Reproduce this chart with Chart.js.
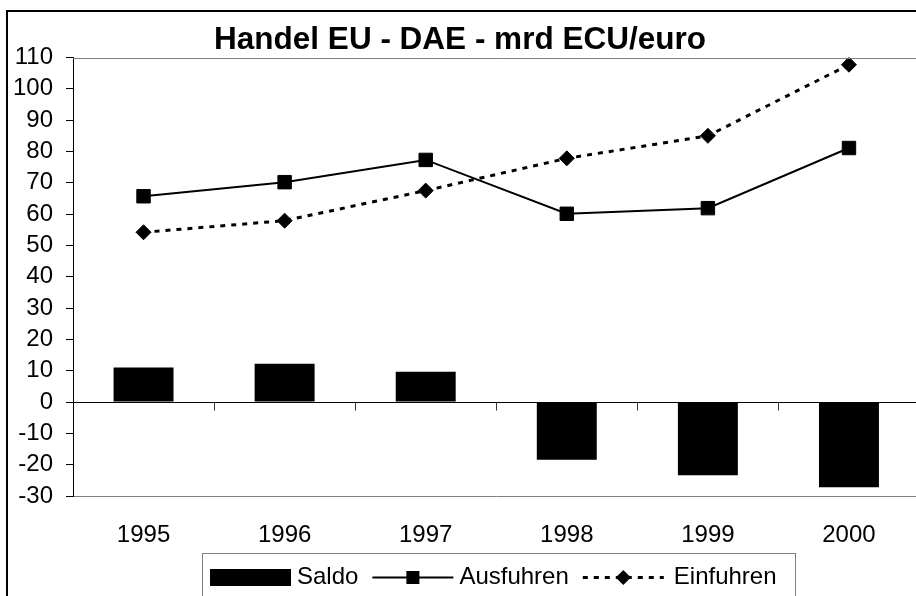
<!DOCTYPE html>
<html>
<head>
<meta charset="utf-8">
<script src="https://cdn.jsdelivr.net/npm/chart.js@4"></script>
<style>
body{margin:0;background:#fff;overflow:hidden;}
#wrap{width:930px;height:596px;}
</style>
</head>
<body>
<div id="wrap"><canvas id="tradeChart" width="930" height="596"></canvas></div>
<script>
let years=["1995","1996","1997","1998","1999","2000"];
let saldo=[11,12.2,9.7,-18.4,-23.4,-27.2];
let ausfuhren=[65.7,70.2,77.3,60.1,61.9,81.1];
let einfuhren=[54.2,57.9,67.5,77.8,85,107.7];
let yMin=-30;
let yMax=110;
let yStep=10;

Chart.defaults.font.family="'Liberation Sans', Arial, sans-serif";
Chart.defaults.color="#000";

// frame, plot top border, category ticks on zero line, legend box
let decorations={
    id:"decorations",
    beforeDraw(chart){
        let ctx=chart.ctx;
        ctx.save();
        ctx.fillStyle="#fff";
        ctx.fillRect(0,0,chart.width,chart.height);
        ctx.fillStyle="#000";
        ctx.fillRect(6,10,2,chart.height);
        ctx.fillRect(6,10,chart.width,2);
        ctx.restore();
    },
    afterDatasetsDraw(chart){
        let ctx=chart.ctx;
        let area=chart.chartArea;
        let x=chart.scales.x;
        let y=chart.scales.y;
        ctx.save();
        ctx.strokeStyle="#808080";
        ctx.lineWidth=1;
        ctx.beginPath();
        ctx.moveTo(area.left,Math.round(area.top)+0.5);
        ctx.lineTo(area.right,Math.round(area.top)+0.5);
        ctx.stroke();
        let zero=Math.round(y.getPixelForValue(0))+0.5;
        let half=(x.getPixelForValue(1)-x.getPixelForValue(0))/2;
        ctx.strokeStyle="#333";
        ctx.beginPath();
        for(let i=0;i<years.length;i++){
            let px=Math.round(x.getPixelForValue(i)+half)+0.5;
            ctx.moveTo(px,zero);
            ctx.lineTo(px,zero+8);
        }
        ctx.stroke();
        ctx.restore();
    },
    afterDraw(chart){
        let ctx=chart.ctx;
        let ds=chart.data.datasets;
        ctx.save();
        ctx.strokeStyle="#808080";
        ctx.lineWidth=1;
        ctx.strokeRect(202.5,553.5,593,80);
        ctx.font="24px 'Liberation Sans', Arial, sans-serif";
        ctx.textBaseline="alphabetic";
        ctx.fillStyle="#000";
        let cx=210;
        let cy=577.5;
        // Saldo
        ctx.fillRect(cx,569,81,17);
        cx+=87;
        ctx.fillText(ds[0].label,cx,584);
        cx+=ctx.measureText(ds[0].label).width+14;
        // Ausfuhren
        ctx.strokeStyle="#000";
        ctx.lineWidth=2;
        ctx.beginPath();
        ctx.moveTo(cx,cy);
        ctx.lineTo(cx+81,cy);
        ctx.stroke();
        ctx.fillRect(cx+40.5-6.5,cy-6.5,13,13);
        cx+=87;
        ctx.fillText(ds[1].label,cx,584);
        cx+=ctx.measureText(ds[1].label).width+14;
        // Einfuhren
        ctx.lineWidth=3;
        ctx.setLineDash([5,6]);
        ctx.beginPath();
        ctx.moveTo(cx,cy);
        ctx.lineTo(cx+81,cy);
        ctx.stroke();
        ctx.setLineDash([]);
        let mx=cx+40.5;
        ctx.beginPath();
        ctx.moveTo(mx-7.5,cy);
        ctx.lineTo(mx,cy-7.5);
        ctx.lineTo(mx+7.5,cy);
        ctx.lineTo(mx,cy+7.5);
        ctx.closePath();
        ctx.fill();
        cx+=91;
        ctx.fillText(ds[2].label,cx,584);
        ctx.restore();
    }
};

let ctx=document.getElementById("tradeChart").getContext("2d");
let tradeChart=new Chart(ctx,{
    data:{
        labels:years,
        datasets:[
            {
                type:"bar",
                label:"Saldo",
                data:saldo,
                backgroundColor:"#000",
                borderWidth:0,
                barPercentage:0.425,
                categoryPercentage:1,
                order:2
            },
            {
                type:"line",
                label:"Ausfuhren",
                data:ausfuhren,
                borderColor:"#000",
                backgroundColor:"#000",
                borderWidth:2,
                pointStyle:"rect",
                pointRadius:9.5,
                pointBorderWidth:1,
                tension:0,
                fill:false,
                order:1
            },
            {
                type:"line",
                label:"Einfuhren",
                data:einfuhren,
                borderColor:"#000",
                backgroundColor:"#000",
                borderWidth:3,
                borderDash:[5,6],
                pointStyle:"rectRot",
                pointRadius:7.5,
                pointBorderWidth:1,
                tension:0,
                fill:false,
                order:0
            }
        ]
    },
    options:{
        responsive:false,
        animation:false,
        layout:{padding:{left:0,right:10,top:0,bottom:50}},
        plugins:{
            legend:{display:false},
            tooltip:{enabled:false},
            title:{
                display:true,
                text:"Handel EU - DAE - mrd ECU/euro",
                color:"#000",
                font:{size:31.5,weight:"bold",lineHeight:1},
                padding:{top:25,bottom:1}
            }
        },
        scales:{
            x:{
                type:"category",
                offset:true,
                grid:{display:false,drawTicks:false},
                border:{display:true,color:"#808080",width:1},
                ticks:{font:{size:24},color:"#000",padding:25,maxRotation:0},
                afterFit(scale){scale.height=50;}
            },
            y:{
                min:yMin,
                max:yMax,
                ticks:{stepSize:yStep,autoSkip:false,font:{size:24},color:"#000",padding:13},
                grid:{
                    drawTicks:true,
                    tickLength:7,
                    tickColor:"#000",
                    color:function(c){return c.tick&&c.tick.value===0?"#000":"rgba(0,0,0,0)";},
                    lineWidth:1
                },
                border:{display:true,color:"#000",width:1},
                afterFit(scale){scale.width=73;}
            }
        }
    },
    plugins:[decorations]
});
</script>
</body>
</html>
